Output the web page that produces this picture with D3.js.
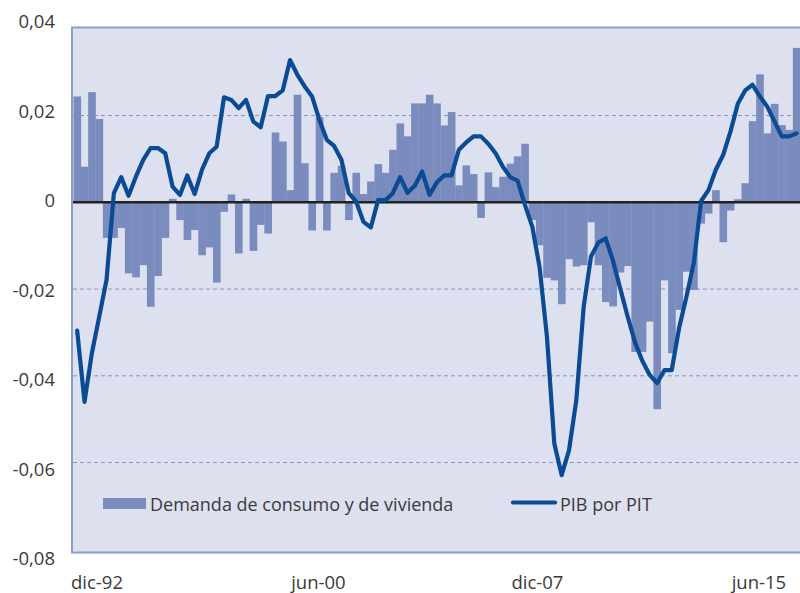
<!DOCTYPE html>
<html>
<head>
<meta charset="utf-8">
<script src="https://cdn.jsdelivr.net/npm/d3@7"></script>
<style>
  body { margin: 0; background: #fff; }
  svg text { font-family: "Open Sans", "Noto Sans", sans-serif; fill: #3a3a3a; }
</style>
</head>
<body>
<svg id="chart" width="800" height="593"></svg>
<script>
// quarterly series, dic-92 .. jun-17
const demanda = [
  0.0244, 0.0082, 0.0254, 0.0192, -0.0082, -0.0082, -0.0059, -0.0164, -0.0173, -0.0145,
  -0.0241, -0.0170, -0.0082, 0.0008, -0.0041, -0.0087, -0.0064, -0.0122, -0.0104, -0.0185,
  -0.0022, 0.0018, -0.0118, 0.0008, -0.0112, -0.0052, -0.0072, 0.0161, 0.0140, 0.0028,
  0.0248, 0.0090, -0.0065, 0.0196, -0.0065, 0.0068, 0.0084, -0.0041, 0.0068, 0.0019,
  0.0048, 0.0088, 0.0068, 0.0121, 0.0182, 0.0152, 0.0228, 0.0228, 0.0248, 0.0228,
  0.0177, 0.0208, 0.0039, 0.0085, 0.0065, -0.0036, 0.0069, 0.0035, 0.0059, 0.0089,
  0.0106, 0.0135, -0.0041, -0.0099, -0.0174, -0.0180, -0.0235, -0.0131, -0.0148, -0.0145,
  -0.0046, -0.0145, -0.0230, -0.0240, -0.0162, -0.0147, -0.0345, -0.0345, -0.0275, -0.0477,
  -0.0180, -0.0348, -0.0248, -0.0160, -0.0202, -0.0049, -0.0026, 0.0028, -0.0092, -0.0019,
  0.0007, 0.0044, 0.0187, 0.0295, 0.0159, 0.0227, 0.0178, 0.0167, 0.0356
];

const pib = [
  -0.0296, -0.0460, -0.0348, -0.0264, -0.0179, 0.0021, 0.0058, 0.0015, 0.0059, 0.0098,
  0.0125, 0.0125, 0.0113, 0.0036, 0.0017, 0.0062, 0.0019, 0.0075, 0.0113, 0.0128,
  0.0242, 0.0236, 0.0217, 0.0236, 0.0186, 0.0173, 0.0245, 0.0245, 0.0258, 0.0328,
  0.0294, 0.0267, 0.0244, 0.0190, 0.0144, 0.0130, 0.0098, 0.0021, 0.0002, -0.0045,
  -0.0058, 0.0005, 0.0005, 0.0021, 0.0058, 0.0022, 0.0038, 0.0071, 0.0017, 0.0046,
  0.0062, 0.0062, 0.0121, 0.0138, 0.0152, 0.0152, 0.0135, 0.0113, 0.0082, 0.0058,
  0.0050, -0.0006, -0.0056, -0.0150, -0.0310, -0.0556, -0.0629, -0.0572, -0.0456, -0.0241,
  -0.0125, -0.0093, -0.0083, -0.0135, -0.0200, -0.0264, -0.0323, -0.0366, -0.0398, -0.0417,
  -0.0387, -0.0387, -0.0290, -0.0218, -0.0140, 0.0003, 0.0028, 0.0075, 0.0109, 0.0163,
  0.0227, 0.0258, 0.0271, 0.0244, 0.0221, 0.0186, 0.0152, 0.0152, 0.0159
];

const yTicks = [0.04, 0.02, 0, -0.02, -0.04, -0.06, -0.08];
const gridTicks = [0.02, -0.02, -0.04, -0.06];
const xTickIndex = [0, 30, 60, 90];
const xTickLabels = ["dic-92", "jun-00", "dic-07", "jun-15"];
const seriesNames = ["Demanda de consumo y de vivienda", "PIB por PIT"];

const barColor = "#7a8bbd",
      lineColor = "#0a4b94",
      plotBg = "#dde0ef",
      borderColor = "#8c9ccc";

const svg = d3.select("#chart");

const x = d3.scaleBand()
    .domain(d3.range(demanda.length))
    .range([73.5, 800.2])
    .padding(0);

const y = d3.scaleLinear()
    .domain([-0.08, 0.04])
    .range([549.3, 28.8]);

// tick labels sit a little off the grid in the original
const yLab = d3.scaleLinear()
    .domain([-0.08, 0.04])
    .range([559, 22]);

const es = d3.formatLocale({decimal: ",", thousands: ".", grouping: [3], currency: ["", " €"], minus: "-"});
const fmt = v => v === 0 ? "0" : es.format(".2f")(v);

// plot area
svg.append("rect")
    .attr("x", 72).attr("y", 27.5)
    .attr("width", 740).attr("height", 525)
    .attr("fill", plotBg)
    .attr("stroke", borderColor)
    .attr("stroke-width", 2);

svg.append("g").selectAll("line")
    .data(gridTicks)
    .enter().append("line")
      .attr("x1", 73).attr("x2", 800)
      .attr("y1", d => y(d)).attr("y2", d => y(d))
      .attr("stroke", "#8395c9")
      .attr("stroke-width", 1)
      .attr("stroke-dasharray", "4,3");

// bars
svg.append("g").selectAll("rect")
    .data(demanda)
    .enter().append("rect")
      .attr("x", (d, i) => x(i))
      .attr("width", x.bandwidth() + 0.3)
      .attr("y", d => Math.min(y(d), y(0)))
      .attr("height", d => Math.abs(y(d) - y(0)))
      .attr("fill", barColor);

// zero line
svg.append("line")
    .attr("x1", 73).attr("x2", 800)
    .attr("y1", y(0)).attr("y2", y(0))
    .attr("stroke", "#222")
    .attr("stroke-width", 2.5);

// PIB line
const line = d3.line()
    .x((d, i) => x(i) + x.bandwidth() / 2)
    .y(d => y(d));

svg.append("path")
    .datum(pib)
    .attr("d", line)
    .attr("fill", "none")
    .attr("stroke", lineColor)
    .attr("stroke-width", 4.2)
    .attr("stroke-linejoin", "round")
    .attr("stroke-linecap", "round");

// y labels
svg.append("g").selectAll("text")
    .data(yTicks)
    .enter().append("text")
      .attr("x", 55)
      .attr("y", d => yLab(d))
      .attr("dy", "0.35em")
      .attr("text-anchor", "end")
      .style("font-size", "18.5px")
      .text(fmt);

// x labels
svg.append("g").selectAll("text")
    .data(xTickIndex)
    .enter().append("text")
      .attr("x", d => x(d) - 2.5)
      .attr("y", 589)
      .style("font-size", "18.5px")
      .text((d, i) => xTickLabels[i]);

// legend
const leg = svg.append("g");
leg.append("rect")
    .attr("x", 103).attr("y", 498)
    .attr("width", 43).attr("height", 11)
    .attr("fill", barColor);
leg.append("text")
    .attr("x", 150).attr("y", 510.5)
    .style("font-size", "18px")
    .text(seriesNames[0]);
leg.append("line")
    .attr("x1", 513).attr("x2", 555)
    .attr("y1", 502.5).attr("y2", 502.5)
    .attr("stroke", lineColor)
    .attr("stroke-width", 4.2)
    .attr("stroke-linecap", "round");
leg.append("text")
    .attr("x", 560).attr("y", 510.5)
    .style("font-size", "18px")
    .text(seriesNames[1]);
</script>
</body>
</html>
